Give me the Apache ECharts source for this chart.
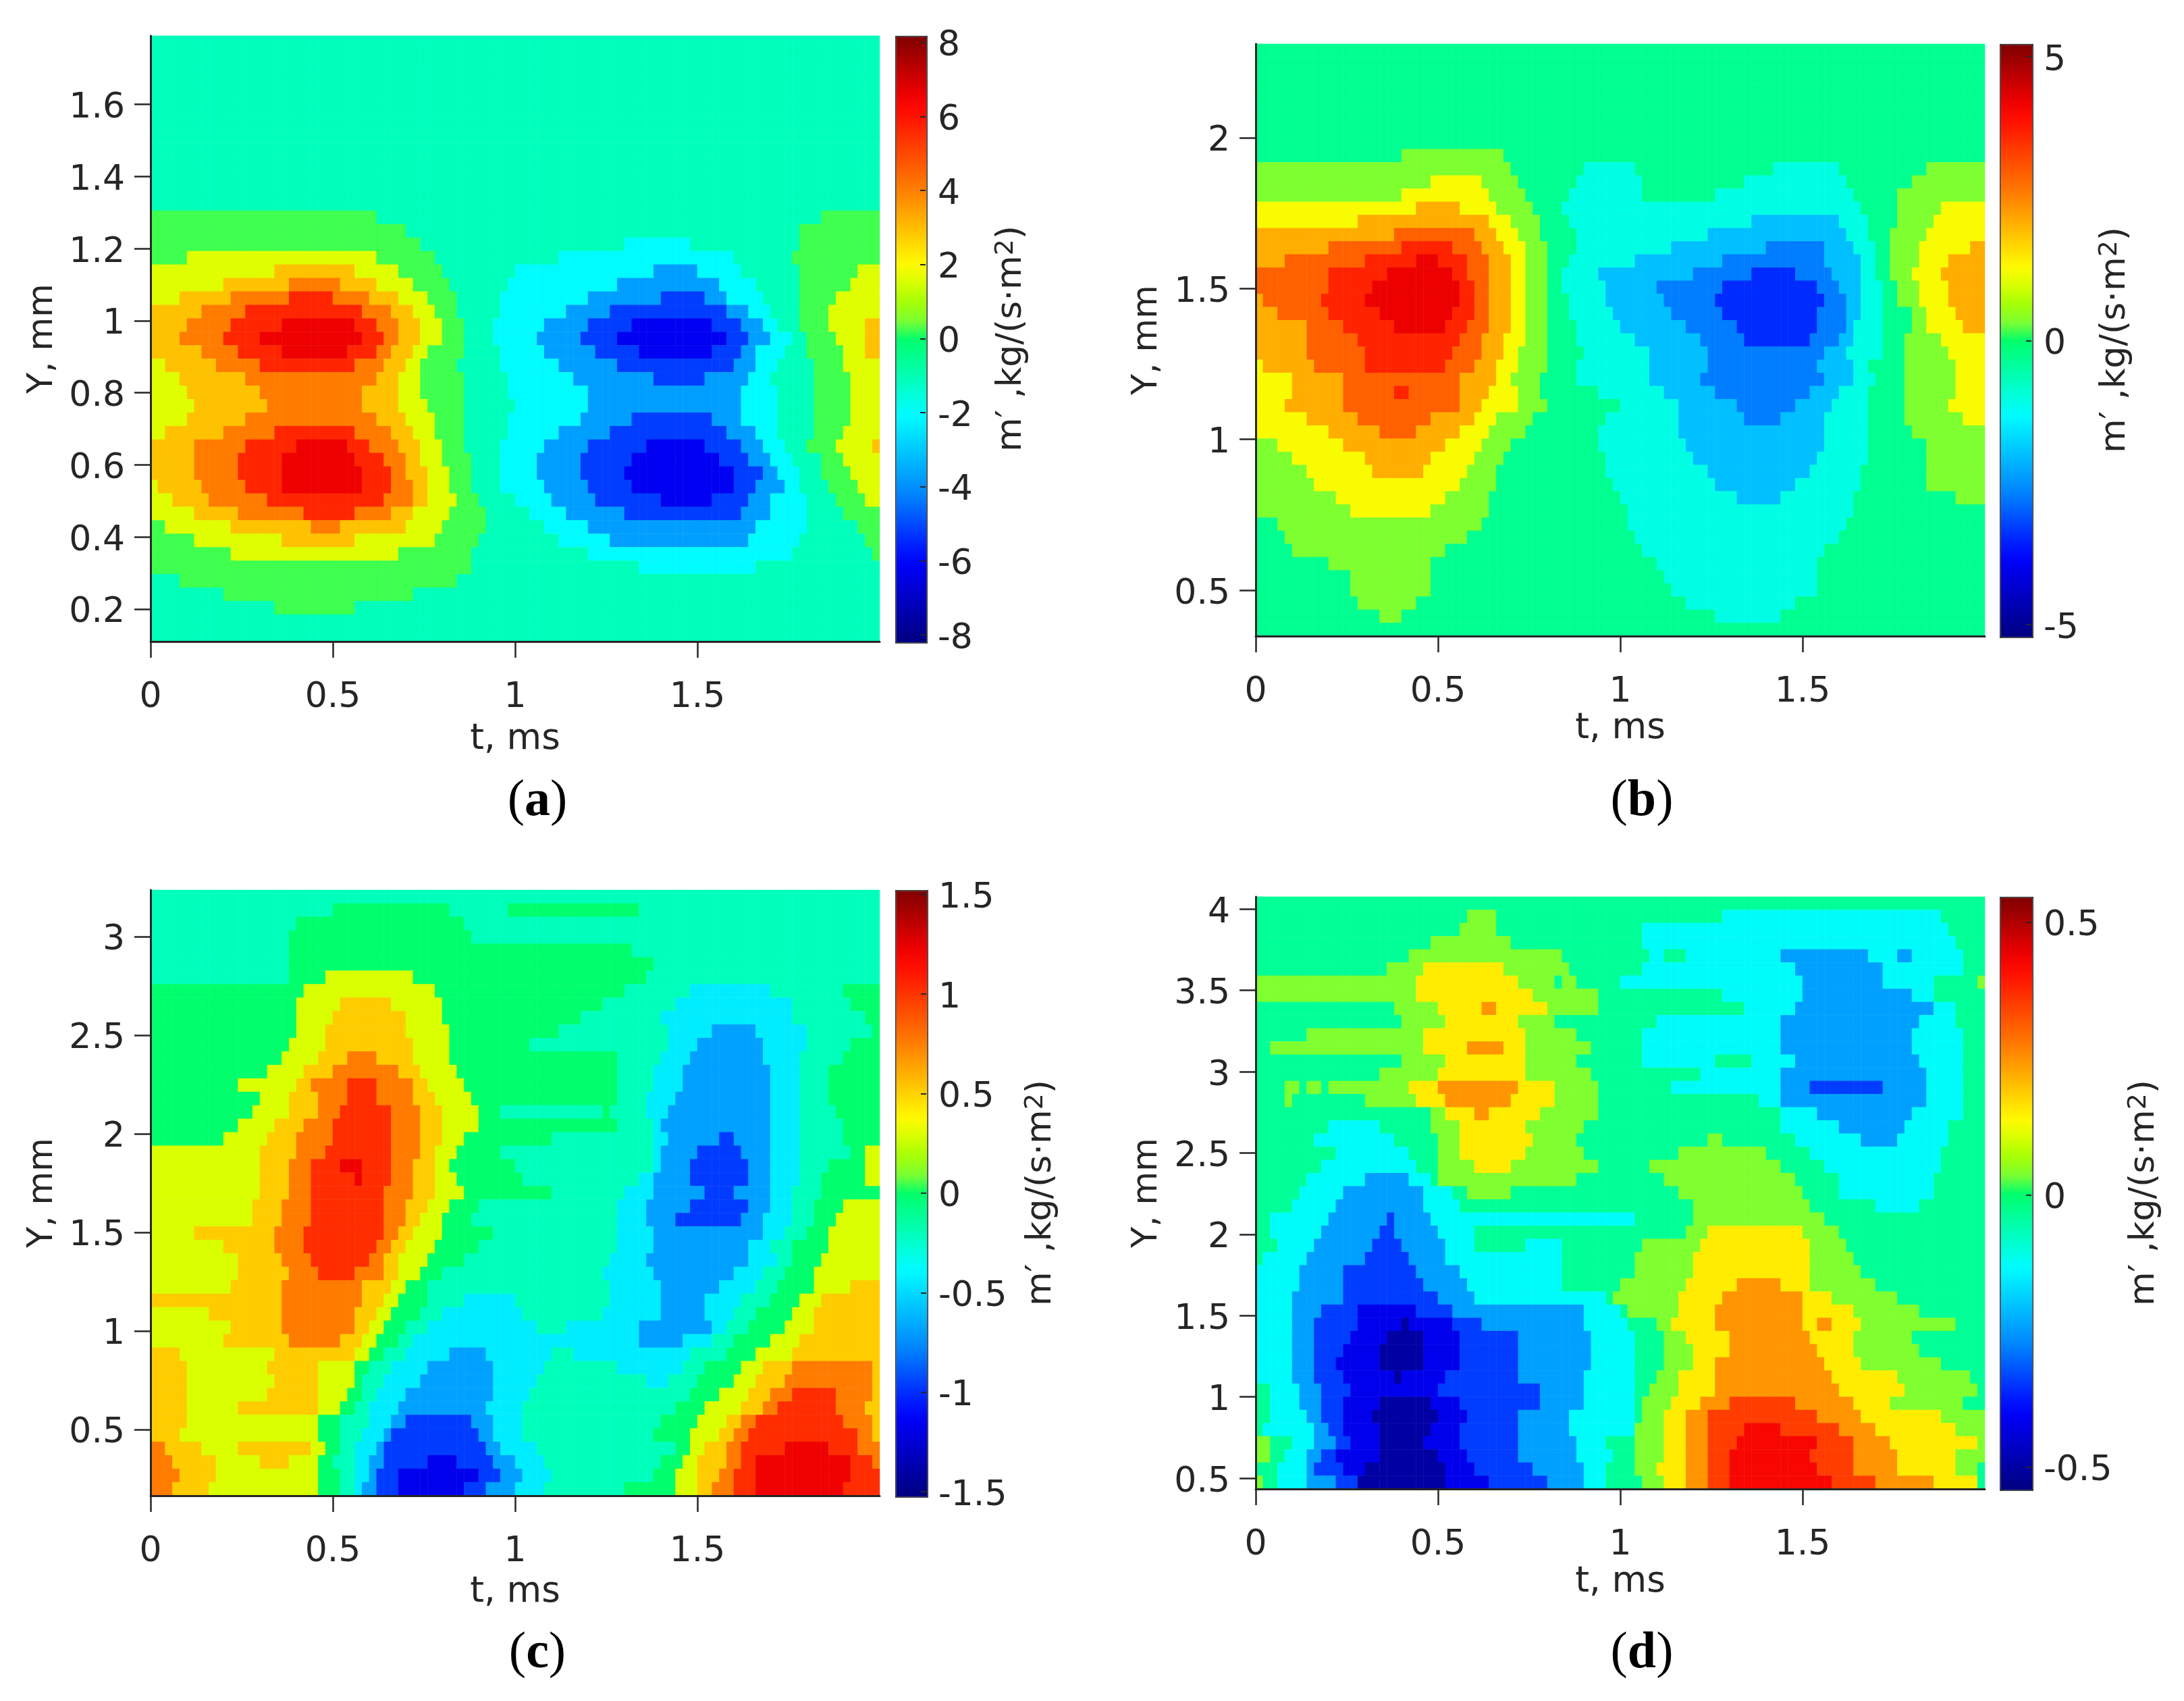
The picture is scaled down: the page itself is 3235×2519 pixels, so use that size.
<!DOCTYPE html>
<html><head><meta charset="utf-8"><style>html,body{margin:0;padding:0;background:#fff}#c{width:3235px;height:2519px}</style>
<script src="https://cdn.jsdelivr.net/npm/echarts@6/dist/echarts.min.js"></script></head><body><div id="c"></div>
<script>
const colorStops=['rgb(0,0,128)','rgb(0,0,157)','rgb(0,0,187)','rgb(0,0,217)','rgb(0,0,246)','rgb(0,26,255)','rgb(0,64,255)','rgb(0,102,255)','rgb(0,137,255)','rgb(0,166,255)','rgb(0,195,255)','rgb(0,224,255)','rgb(0,252,255)','rgb(0,255,221)','rgb(0,255,183)','rgb(0,255,146)','rgb(0,255,108)','rgb(124,255,50)','rgb(165,255,5)','rgb(215,255,0)','rgb(255,250,0)','rgb(255,219,0)','rgb(255,187,0)','rgb(255,155,0)','rgb(255,124,0)','rgb(255,96,0)','rgb(255,68,0)','rgb(255,41,0)','rgb(255,13,0)','rgb(236,0,0)','rgb(200,0,0)','rgb(164,0,0)','rgb(128,0,0)'];
// band values (m') per contour level index 0..10
const bandsA=[-6.2,-5.15,-3.7,-2.05,-1.06,0.26,1.64,2.95,4.09,5.7,6.6];
const bandsB=[-3.43,-2.7,-1.98,-1.04,-0.31,0.34,1.25,2.08,2.91,3.64,4.21];
const bandsC=[-1.17,-0.96,-0.68,-0.43,-0.2,0,0.29,0.52,0.76,1.03,1.22];
const bandsD=[-0.5,-0.416,-0.34,-0.243,-0.13,-0.038,0.036,0.15,0.243,0.346,0.42];
// Each row (top to bottom): level, end column, level, end column ... (100 columns across t)
const rowsA=[[4,100],[4,100],[4,100],[4,100],[4,100],[4,100],[4,100],[4,100],[4,100],[4,100],[4,100],[4,100],[4,100],
[5,31,4,92,5,100],[5,35,4,89,5,100],[5,37,4,65,3,74,4,89,5,100],[5,5,6,31,5,39,4,56,3,80,4,88,5,100],
[6,17,7,28,6,34,5,40,4,50,3,69,2,75,3,81,4,89,5,97,6,100],
[6,10,7,19,8,26,7,31,6,36,5,41,4,49,3,64,2,78,3,83,4,89,5,96,6,100],
[6,4,7,11,8,19,9,25,8,30,7,34,6,38,5,42,4,48,3,60,2,70,1,76,2,79,3,84,4,89,5,94,6,100],
[7,7,8,13,9,29,8,33,7,36,6,39,5,42,4,48,3,57,2,63,1,79,2,82,3,85,4,89,5,93,6,100],
[7,5,8,11,9,18,10,28,9,31,8,34,7,37,6,40,5,43,4,47,3,54,2,60,1,66,0,77,1,81,2,84,3,86,4,89,5,93,6,98,7,100],
[7,4,8,10,9,15,10,29,9,32,8,34,7,37,6,40,5,43,4,47,3,53,2,59,1,64,0,79,1,82,2,85,3,88,4,90,5,94,6,98,7,100],
[7,7,8,12,9,18,10,27,9,31,8,33,7,36,6,38,5,43,4,48,3,54,2,61,1,67,0,77,1,81,2,83,3,87,4,90,5,95,6,98,7,100],
[6,2,7,9,8,15,9,28,8,32,7,35,6,37,5,42,4,48,3,56,2,64,1,80,2,83,3,86,4,91,5,95,6,100],
[6,4,7,13,8,31,7,34,6,37,5,43,4,49,3,58,2,69,1,76,2,82,3,85,4,91,5,96,6,100],
[6,5,7,15,8,29,7,34,6,37,5,43,4,49,3,60,2,81,3,86,4,91,5,96,6,100],
[6,6,7,16,8,29,7,34,6,38,5,43,4,50,3,60,2,81,3,86,4,91,5,96,6,100],
[6,5,7,13,8,31,7,35,6,39,5,43,4,49,3,59,2,66,1,77,2,81,3,86,4,91,5,96,6,100],
[6,2,7,10,8,17,9,28,8,33,7,36,6,39,5,43,4,49,3,56,2,63,1,79,2,83,3,86,4,91,5,95,6,100],
[7,6,8,13,9,20,10,27,9,30,8,34,7,37,6,40,5,43,4,48,3,54,2,60,1,68,0,76,1,81,2,84,3,87,4,90,5,94,6,99,7,100],
[7,6,8,12,9,18,10,28,9,32,8,35,7,37,6,40,5,44,4,48,3,53,2,59,1,66,0,78,1,82,2,85,3,88,4,92,5,95,6,100],
[7,6,8,12,9,18,10,29,9,33,8,35,7,38,6,41,5,44,4,48,3,53,2,59,1,65,0,80,1,84,2,86,3,89,4,92,5,96,6,100],
[6,1,7,7,8,13,9,18,10,29,9,33,8,36,7,38,6,41,5,44,4,48,3,54,2,60,1,66,0,80,1,83,2,87,3,89,4,93,5,97,6,100],
[6,3,7,8,8,16,9,32,8,36,7,38,6,42,5,45,4,50,3,55,2,61,1,70,0,77,1,82,2,85,3,90,4,94,5,98,6,100],
[6,6,7,12,8,21,9,28,8,33,7,36,6,41,5,46,4,52,3,57,2,65,1,81,2,85,3,90,4,95,5,100],
[5,2,6,11,7,22,8,26,7,35,6,40,5,46,4,54,3,60,2,83,3,90,4,97,5,100],
[5,6,6,18,7,28,6,39,5,45,4,56,3,63,2,82,3,89,4,98,5,100],
[5,11,6,34,5,44,4,60,3,88,4,99,5,100],
[5,44,4,67,3,83,4,100],[4,4,5,42,4,100],[4,10,5,36,4,100],[4,17,5,28,4,100],[4,100],[4,100]];
const rowsB=[[4,100],[4,100],[4,100],[4,100],[4,100],[4,100],[4,100],[4,100],
[4,20,5,34,4,100],
[5,35,4,45,3,52,4,71,3,80,4,92,5,100],
[5,24,6,31,5,36,4,44,3,53,4,67,3,81,4,90,5,100],
[5,20,6,32,5,37,4,43,3,53,4,63,3,82,4,88,5,100],
[6,22,7,28,6,33,5,38,4,42,3,83,4,88,5,94,6,100],
[6,14,7,32,6,35,5,39,4,43,3,68,2,80,3,84,4,88,5,93,6,100],
[7,19,8,30,7,33,6,36,5,39,4,44,3,62,2,81,3,84,4,87,5,92,6,100],
[7,10,8,20,9,27,8,31,7,34,6,37,5,40,4,44,3,57,2,70,1,78,2,82,3,85,4,87,5,91,6,98,7,100],
[7,4,8,15,9,22,10,25,9,29,8,32,7,35,6,37,5,40,4,43,3,52,2,64,1,78,2,83,3,85,4,87,5,91,6,95,7,100],
[8,10,9,18,10,27,9,29,8,32,7,35,6,37,5,40,4,42,3,47,2,60,1,68,0,74,1,79,2,83,3,85,4,87,5,90,6,94,7,100],
[8,10,9,16,10,28,9,30,8,32,7,35,6,37,5,40,4,42,3,48,2,55,1,64,0,77,1,80,2,83,3,86,4,88,5,91,6,95,7,100],
[7,1,8,9,9,15,10,28,9,30,8,32,7,35,6,37,5,40,4,43,3,48,2,56,1,63,0,78,1,81,2,83,3,86,4,88,5,91,6,95,7,100],
[7,3,8,10,9,17,10,27,9,30,8,32,7,35,6,37,5,40,4,43,3,49,2,57,1,64,0,77,1,81,2,83,3,86,4,90,5,92,6,96,7,100],
[7,7,8,12,9,19,10,26,9,29,8,32,7,35,6,37,5,40,4,44,3,50,2,59,1,66,0,77,1,81,2,82,3,86,4,90,5,92,6,97,7,100],
[7,7,8,14,9,28,8,31,7,34,6,37,5,40,4,44,3,52,2,61,1,67,0,76,1,80,2,82,3,86,4,89,5,94,6,100],
[7,7,8,15,9,27,8,31,7,34,6,36,5,40,4,45,3,54,2,62,1,78,2,81,3,86,4,89,5,95,6,100],
[6,1,7,8,8,15,9,26,8,30,7,33,6,36,5,40,4,44,3,54,2,62,1,77,2,82,3,84,4,89,5,96,6,100],
[6,5,7,12,8,28,7,33,6,35,5,39,4,44,3,54,2,61,1,78,2,82,3,85,4,89,5,96,6,100],
[6,5,7,12,8,19,9,21,8,28,7,32,6,36,5,39,4,47,3,56,2,63,1,76,2,80,3,84,4,89,5,96,6,100],
[6,4,7,12,8,28,7,31,6,36,5,40,4,50,3,58,2,66,1,74,2,79,3,84,4,89,5,95,6,100],
[6,7,7,14,8,24,7,30,6,33,5,38,4,48,3,58,2,67,1,72,2,78,3,84,4,89,5,97,6,100],
[6,10,7,17,8,22,7,28,6,32,5,37,4,47,3,58,2,78,3,84,4,90,5,100],
[5,3,6,12,7,26,6,31,5,35,4,47,3,59,2,78,3,84,4,92,5,100],
[5,5,6,15,7,24,6,30,5,34,4,48,3,60,2,77,3,84,4,92,5,100],
[5,7,6,16,7,23,6,29,5,33,4,48,3,62,2,76,3,83,4,92,5,100],
[5,8,6,28,5,33,4,49,3,63,2,74,3,83,4,92,5,100],
[5,11,6,26,5,32,4,50,3,66,2,72,3,82,4,96,5,100],
[5,13,6,24,5,32,4,51,3,82,4,100],
[4,3,5,31,4,51,3,81,4,100],[4,4,5,29,4,52,3,80,4,100],[4,5,5,26,4,53,3,78,4,100],[4,10,5,24,4,55,3,77,4,100],
[4,13,5,24,4,56,3,77,4,100],[4,13,5,24,4,57,3,77,4,100],[4,14,5,22,4,59,3,74,4,100],[4,17,5,20,4,63,3,72,4,100],[4,100]];
const rowsC=[[4,100],
[4,25,5,41,4,49,5,67,4,100],[4,20,5,43,4,100],[4,19,5,44,4,100],[4,19,5,66,4,100],[4,19,5,69,4,100],
[4,19,5,24,6,36,5,68,4,100],
[5,21,6,39,5,65,4,74,3,85,4,95,5,100],
[5,20,6,26,7,33,6,40,5,62,4,72,3,88,4,96,5,100],
[5,20,6,25,7,35,6,40,5,59,4,70,3,88,4,98,5,100],
[5,20,6,24,7,35,6,41,5,56,4,71,3,77,2,83,3,90,4,99,5,100],
[5,19,6,24,7,36,6,41,5,52,4,71,3,75,2,84,3,90,4,96,5,100],
[5,18,6,23,7,27,8,31,7,36,6,41,5,64,4,70,3,74,2,84,3,89,4,95,5,100],
[5,16,6,21,7,25,8,34,7,37,6,42,5,64,4,69,3,73,2,85,3,89,4,93,5,100],
[5,12,6,20,7,22,8,27,9,31,8,36,7,38,6,43,5,64,4,69,3,73,2,85,3,89,4,93,5,100],
[5,15,6,19,7,23,8,27,9,31,8,36,7,39,6,44,5,64,4,68,3,72,2,85,3,89,4,93,5,100],
[5,14,6,19,7,23,8,26,9,33,8,37,7,40,6,45,5,48,4,62,5,63,4,68,3,71,2,85,3,89,4,94,5,100],
[5,12,6,17,7,21,8,25,9,33,8,37,7,40,6,45,5,64,4,69,3,70,2,85,3,89,4,95,5,100],
[5,10,6,16,7,20,8,25,9,33,8,37,7,40,6,43,5,55,4,69,3,71,2,78,1,80,2,85,3,89,4,95,5,100],
[6,15,7,20,8,24,9,33,8,37,7,39,6,42,5,48,4,69,3,70,2,75,1,81,2,85,3,89,4,96,5,98,6,100],
[6,15,7,19,8,22,9,26,10,29,9,33,8,36,7,39,6,41,5,50,4,69,3,70,2,74,1,82,2,85,3,89,4,93,5,98,6,100],
[6,15,7,19,8,22,9,28,10,29,9,33,8,36,7,39,6,42,5,51,4,67,3,69,2,74,1,82,2,85,3,89,4,92,5,98,6,100],
[6,15,7,19,8,22,9,32,8,36,7,39,6,43,5,55,4,65,3,69,2,76,1,80,2,85,3,88,4,92,5,100],
[6,14,7,18,8,22,9,32,8,35,7,38,6,41,5,45,4,64,3,68,2,74,1,82,2,85,3,88,4,91,5,95,6,100],
[6,14,7,18,8,22,9,32,8,35,7,37,6,40,5,44,4,64,3,68,2,72,1,81,2,84,3,88,4,91,5,94,6,100],
[6,6,7,17,8,21,9,32,8,34,7,36,6,40,5,47,4,64,3,69,2,84,3,87,4,90,5,93,6,100],
[6,10,7,17,8,21,9,31,8,33,7,35,6,39,5,45,4,64,3,69,2,82,3,85,4,88,5,93,6,100],
[6,12,7,18,8,22,9,30,8,32,7,34,6,38,5,43,4,63,3,68,2,82,3,86,4,88,5,92,6,100],
[6,12,7,19,8,23,9,28,8,32,7,34,6,37,5,40,4,62,3,69,2,80,3,84,4,87,5,91,6,100],
[6,11,7,18,8,29,7,33,6,35,5,38,4,63,3,70,2,78,3,83,4,86,5,91,6,96,7,100],
[7,18,8,29,7,32,6,34,5,38,4,43,3,50,4,63,3,70,2,76,3,81,4,85,5,89,6,92,7,100],
[6,8,7,18,8,28,7,31,6,33,5,37,4,40,3,51,4,62,3,70,2,76,3,80,4,83,5,88,6,91,7,100],
[6,11,7,18,8,28,7,30,6,32,5,35,4,38,3,53,4,57,3,67,2,77,3,79,4,82,5,87,6,91,7,100],
[6,10,7,19,8,26,7,29,6,31,5,34,4,36,3,67,2,73,3,77,4,80,5,85,6,89,7,100],
[7,4,6,17,7,28,6,30,5,32,4,35,3,41,2,46,3,55,4,58,3,74,4,79,5,83,6,88,7,100],
[7,5,6,16,7,23,6,28,5,30,4,33,3,38,2,47,3,54,4,64,3,73,4,76,5,81,6,84,7,88,8,99,7,100],
[7,5,6,17,7,23,6,28,5,29,4,32,3,37,2,47,3,53,4,68,3,71,4,75,5,80,6,83,7,87,8,99,7,100],
[7,5,6,16,7,23,6,27,5,29,4,31,3,35,2,47,3,52,4,74,5,78,6,82,7,85,8,88,9,94,8,99,7,100],
[7,5,6,12,7,23,6,26,5,28,4,30,3,34,2,46,3,51,4,72,5,76,6,81,7,84,8,86,9,94,8,98,7,100],
[7,5,6,23,5,26,4,30,3,33,2,35,1,44,2,47,3,51,4,70,5,75,6,79,7,81,8,83,9,95,8,99,7,100],
[7,4,6,23,5,26,4,29,3,32,2,33,1,45,2,47,3,51,4,69,5,74,6,78,7,80,8,82,9,97,8,99,7,100],
[8,2,7,7,6,12,7,22,6,24,5,26,4,28,3,31,2,32,1,46,2,48,3,53,4,72,5,74,6,76,7,79,8,81,9,87,10,93,9,97,8,100],
[8,3,7,9,6,15,7,19,6,23,5,25,4,28,3,30,2,32,1,38,0,42,1,47,2,50,3,54,4,70,5,73,6,75,7,79,8,81,9,83,10,96,9,99,8,100],
[8,4,7,9,6,23,5,26,4,28,3,30,2,31,1,34,0,45,1,48,2,51,3,55,4,69,5,72,6,75,7,78,8,80,9,83,10,96,9,100],
[8,3,7,8,6,23,5,26,4,28,3,29,2,31,1,34,0,43,1,46,2,50,3,54,4,65,5,72,6,75,7,77,8,80,9,83,10,95,9,100]];
const rowsD=[[5,100],[5,29,6,33,5,64,4,94,5,100],[5,28,6,33,5,53,4,95,5,100],[5,24,6,35,5,53,4,96,5,100],
[5,21,6,42,5,54,4,56,5,59,4,72,3,84,4,88,3,90,4,97,5,100],
[5,18,6,23,7,34,6,43,5,53,4,74,3,86,4,97,5,100],
[6,22,7,36,6,41,5,42,6,44,5,50,4,75,3,86,4,93,5,99,6,100],
[6,22,7,38,6,47,5,64,4,75,3,90,4,93,5,100],
[5,19,6,25,7,31,8,33,7,40,6,47,5,67,4,74,3,93,4,96,5,100],
[5,20,6,26,7,36,6,41,5,55,4,72,3,91,4,96,5,100],
[5,7,6,23,7,37,6,44,5,53,4,72,3,90,4,97,5,100],
[5,2,6,23,7,29,8,34,7,37,6,46,5,53,4,72,3,90,4,97,5,100],
[5,20,6,26,7,37,6,44,5,53,4,63,5,68,4,74,3,91,4,97,5,100],
[5,17,6,25,7,37,6,46,5,61,4,72,3,92,4,97,5,100],
[5,4,6,6,5,7,6,9,5,10,6,21,7,25,8,36,7,41,6,47,5,57,4,72,3,76,2,86,3,92,4,97,5,100],
[5,4,6,5,5,15,6,22,7,26,8,35,7,41,6,47,5,69,4,72,3,92,4,97,5,100],
[5,24,6,26,7,30,8,32,7,39,6,47,5,72,4,77,3,90,4,97,5,100],
[5,10,4,17,5,24,6,28,7,37,6,45,5,72,4,80,3,89,4,95,5,100],
[5,8,4,19,5,25,6,28,7,38,6,44,5,62,6,64,5,74,4,83,3,88,4,95,5,100],
[5,11,4,21,5,25,6,28,7,37,6,45,5,58,6,70,5,76,4,94,5,100],
[5,9,4,22,5,25,6,30,7,35,6,47,5,54,6,72,5,78,4,94,5,100],
[5,7,4,15,3,21,4,24,5,25,6,44,5,56,6,74,5,80,4,93,5,100],
[5,6,4,12,3,23,4,27,5,29,6,35,5,58,6,75,5,80,4,93,5,100],
[5,5,4,11,3,23,4,28,5,60,6,76,5,85,4,91,5,100],
[5,2,4,10,3,18,2,19,3,24,4,52,5,60,6,78,5,100],
[5,2,4,9,3,17,2,19,3,25,4,30,5,59,6,62,7,75,6,80,5,100],
[5,3,4,8,3,16,2,20,3,26,4,30,5,37,4,42,5,53,6,61,7,76,6,81,5,100],
[5,1,4,7,3,15,2,21,3,26,4,42,5,52,6,60,7,76,6,82,5,100],
[4,6,3,12,2,22,3,28,4,42,5,52,6,60,7,76,6,83,5,100],
[4,6,3,12,2,23,3,29,4,42,5,50,6,59,7,66,8,72,7,76,6,85,5,100],
[4,5,3,12,2,25,3,30,4,48,5,49,6,58,7,64,8,75,7,79,6,88,5,100],
[4,5,3,9,2,14,1,22,2,27,3,45,4,50,5,51,6,58,7,63,8,75,7,82,6,91,5,100],
[4,5,3,8,2,14,1,20,0,21,1,27,2,31,3,45,4,51,5,55,6,57,7,63,8,75,7,77,8,79,7,83,6,96,5,100],
[4,5,3,8,2,13,1,18,0,23,1,28,2,36,3,46,4,52,5,56,6,59,7,65,8,76,7,82,6,90,5,100],
[4,5,3,8,2,12,1,17,0,23,1,28,2,36,3,46,4,52,5,56,6,60,7,65,8,77,7,82,6,91,5,100],
[4,5,3,8,2,11,1,17,0,23,1,28,2,36,3,46,4,52,5,56,6,60,7,63,8,78,7,83,6,94,5,100],
[4,5,3,8,2,12,1,19,0,20,1,26,2,36,3,45,4,52,5,55,6,58,7,63,8,79,7,88,6,98,5,100],
[5,2,4,6,3,9,2,13,1,25,2,39,3,45,4,52,5,54,6,58,7,63,8,80,7,89,6,99,5,100],
[5,2,4,6,3,9,2,12,1,17,0,24,1,28,2,39,3,45,4,52,5,53,6,57,7,61,8,65,9,74,8,82,7,87,6,97,5,100],
[5,2,4,7,3,9,2,12,1,16,0,25,1,29,2,36,3,43,4,52,5,53,6,56,7,59,8,62,9,77,8,83,7,94,6,100],
[5,1,4,8,3,10,2,12,1,17,0,24,1,28,2,36,3,43,4,52,6,56,7,59,8,62,9,67,10,72,9,80,8,85,7,96,6,100],
[6,2,5,5,4,8,3,11,2,13,1,17,0,23,1,28,2,36,3,44,4,48,5,52,6,56,7,59,8,62,9,66,10,77,9,82,8,87,7,99,6,100],
[6,2,5,4,4,7,3,9,2,11,1,17,0,25,1,29,2,36,3,44,4,49,5,52,6,56,7,59,8,62,9,65,10,76,9,82,8,88,7,96,6,100],
[5,3,4,7,3,8,2,12,1,15,0,26,1,30,2,38,3,45,4,48,5,52,6,55,7,59,8,62,9,65,10,77,9,82,8,88,7,96,6,99,5,100],
[6,1,5,3,4,7,3,11,2,14,0,26,1,32,2,40,3,45,4,48,5,53,6,56,7,59,8,62,9,65,10,79,9,85,8,93,7,99,5,100]];
const tTicks=[0,0.5,1,1.5];
const yTicksA=[0.2,0.4,0.6,0.8,1,1.2,1.4,1.6];
const yTicksB=[0.5,1,1.5,2];
const yTicksC=[0.5,1,1.5,2,2.5,3];
const yTicksD=[0.5,1,1.5,2,2.5,3,3.5,4];
const barTicksA=[-8,-6,-4,-2,0,2,4,6,8];
const barTicksB=[-5,0,5];
const barTicksC=[-1.5,-1,-0.5,0,0.5,1,1.5];
const barTicksD=[-0.5,0,0.5];
const captions=['a','b','c','d'];

const panels=[
{rows:rowsA,bands:bandsA,yTicks:yTicksA,barTicks:barTicksA,yr:[0.11,1.79],m:8.18,barR:[-8.18,8.18],box:[223,53,1080,897],bar:[1326,45],nameGap:100,xGap:119,yGap:134,cap:[796,1187]},
{rows:rowsB,bands:bandsB,yTicks:yTicksB,barTicks:barTicksB,yr:[0.348,2.311],m:5.2,barR:[-5.2,5.226],box:[1860,65,1080,877],bar:[2962,47],nameGap:97,xGap:111,yGap:135,cap:[2432,1187]},
{rows:rowsC,bands:bandsC,yTicks:yTicksC,barTicks:barTicksC,yr:[0.164,3.236],m:1.52,barR:[-1.52,1.523],box:[223,1318,1080,897],bar:[1326,46],nameGap:143,xGap:117,yGap:134,cap:[796,2449]},
{rows:rowsD,bands:bandsD,yTicks:yTicksD,barTicks:barTicksD,yr:[0.434,4.076],m:0.54,barR:[-0.54,0.547],box:[1860,1328,1080,877],bar:[2962,47],nameGap:140,xGap:112,yGap:135,cap:[2432,2449]}
];
const ink='#262626',fnt='"DejaVu Sans"',fs=52;
const cols=[];for(let i=0;i<100;i++)cols.push(i);
const opt={backgroundColor:'#fff',animation:false,grid:[],xAxis:[],yAxis:[],series:[],visualMap:[],title:[]};
panels.forEach((p,idx)=>{
 const [L,T,W,H]=p.box;const n=p.rows.length;
 const rowsCat=[];for(let i=0;i<n;i++)rowsCat.push(i);
 const data=[];
 p.rows.forEach((row,r)=>{let c=0;for(let k=0;k<row.length;k+=2){for(;c<row[k+1]&&c<100;c++)data.push([c,n-1-r,p.bands[row[k]]]);}});
 const g=opt.grid.length;
 opt.grid.push({left:L,top:T,width:W,height:H,containLabel:false});
 opt.grid.push({left:p.bar[0],top:T,width:p.bar[1],height:H,containLabel:false});
 const xi=opt.xAxis.length,yi=opt.yAxis.length;
 opt.xAxis.push({type:'category',gridIndex:g,data:cols,show:false});
 opt.yAxis.push({type:'category',gridIndex:g,data:rowsCat,show:false});
 opt.xAxis.push({type:'value',gridIndex:g,min:0,max:2,position:'bottom',z:5,name:'t, ms',nameLocation:'middle',nameGap:p.xGap,
  nameTextStyle:{fontFamily:fnt,fontSize:53,color:ink},
  axisLine:{show:true,onZero:false,lineStyle:{color:ink,width:3}},
  axisTick:{show:true,length:24,customValues:tTicks,lineStyle:{color:ink,width:2.5}},
  axisLabel:{show:true,customValues:tTicks,margin:57,fontFamily:fnt,fontSize:fs,color:ink},splitLine:{show:false}});
 opt.yAxis.push({type:'value',gridIndex:g,min:p.yr[0],max:p.yr[1],position:'left',z:5,name:'Y, mm',nameLocation:'middle',nameGap:p.yGap,nameRotate:90,
  nameTextStyle:{fontFamily:fnt,fontSize:51,color:ink},
  axisLine:{show:true,onZero:false,lineStyle:{color:ink,width:3}},
  axisTick:{show:true,length:24,customValues:p.yTicks,lineStyle:{color:ink,width:2.5}},
  axisLabel:{show:true,customValues:p.yTicks,margin:38,verticalAlign:'top',lineHeight:12,fontFamily:fnt,fontSize:fs,color:ink},splitLine:{show:false}});
 opt.xAxis.push({type:'value',gridIndex:g+1,min:0,max:1,show:false});
 opt.yAxis.push({type:'value',gridIndex:g+1,min:p.barR[0],max:p.barR[1],position:'right',z:5,name:'{a|m′ ,kg/(s·m}{s|2}{a|)}',nameLocation:'middle',nameGap:p.nameGap,nameRotate:90,
  nameTextStyle:{fontFamily:fnt,fontSize:fs,color:ink,rich:{a:{fontFamily:fnt,fontSize:fs,color:ink},s:{fontFamily:fnt,fontSize:38,color:ink,verticalAlign:'top',padding:[0,0,16,0]}}},
  axisLine:{show:false,onZero:false},
  axisTick:{show:true,inside:true,length:8,customValues:p.barTicks,lineStyle:{color:ink,width:2}},
  axisLabel:{show:true,customValues:p.barTicks,margin:18,verticalAlign:'top',lineHeight:12,fontFamily:fnt,fontSize:fs,color:ink},splitLine:{show:false}});
 const si=opt.series.length;
 opt.series.push({type:'heatmap',xAxisIndex:xi,yAxisIndex:yi,data:data,progressive:0,silent:true,emphasis:{disabled:true},itemStyle:{borderWidth:0}});
 opt.visualMap.push({type:'continuous',min:-p.m,max:p.m,seriesIndex:si,orient:'vertical',left:p.bar[0],top:T,itemWidth:p.bar[1],itemHeight:H,padding:0,text:null,calculable:false,hoverLink:false,showLabel:false,borderColor:'#3a3a3a',borderWidth:3,inRange:{color:colorStops},z:1});
 opt.title.push({text:'{p|(}{b|'+captions[idx]+'}{p|)}',left:p.cap[0],top:p.cap[1]-38,textAlign:'center',padding:0,
  textStyle:{rich:{p:{fontFamily:'"Liberation Serif"',fontSize:76,color:'#000',fontWeight:'normal'},b:{fontFamily:'"Liberation Serif"',fontSize:76,color:'#000',fontWeight:'bold'}}}});
});
const chart=echarts.init(document.getElementById('c'),null,{renderer:'canvas'});
chart.setOption(opt);
</script></body></html>
